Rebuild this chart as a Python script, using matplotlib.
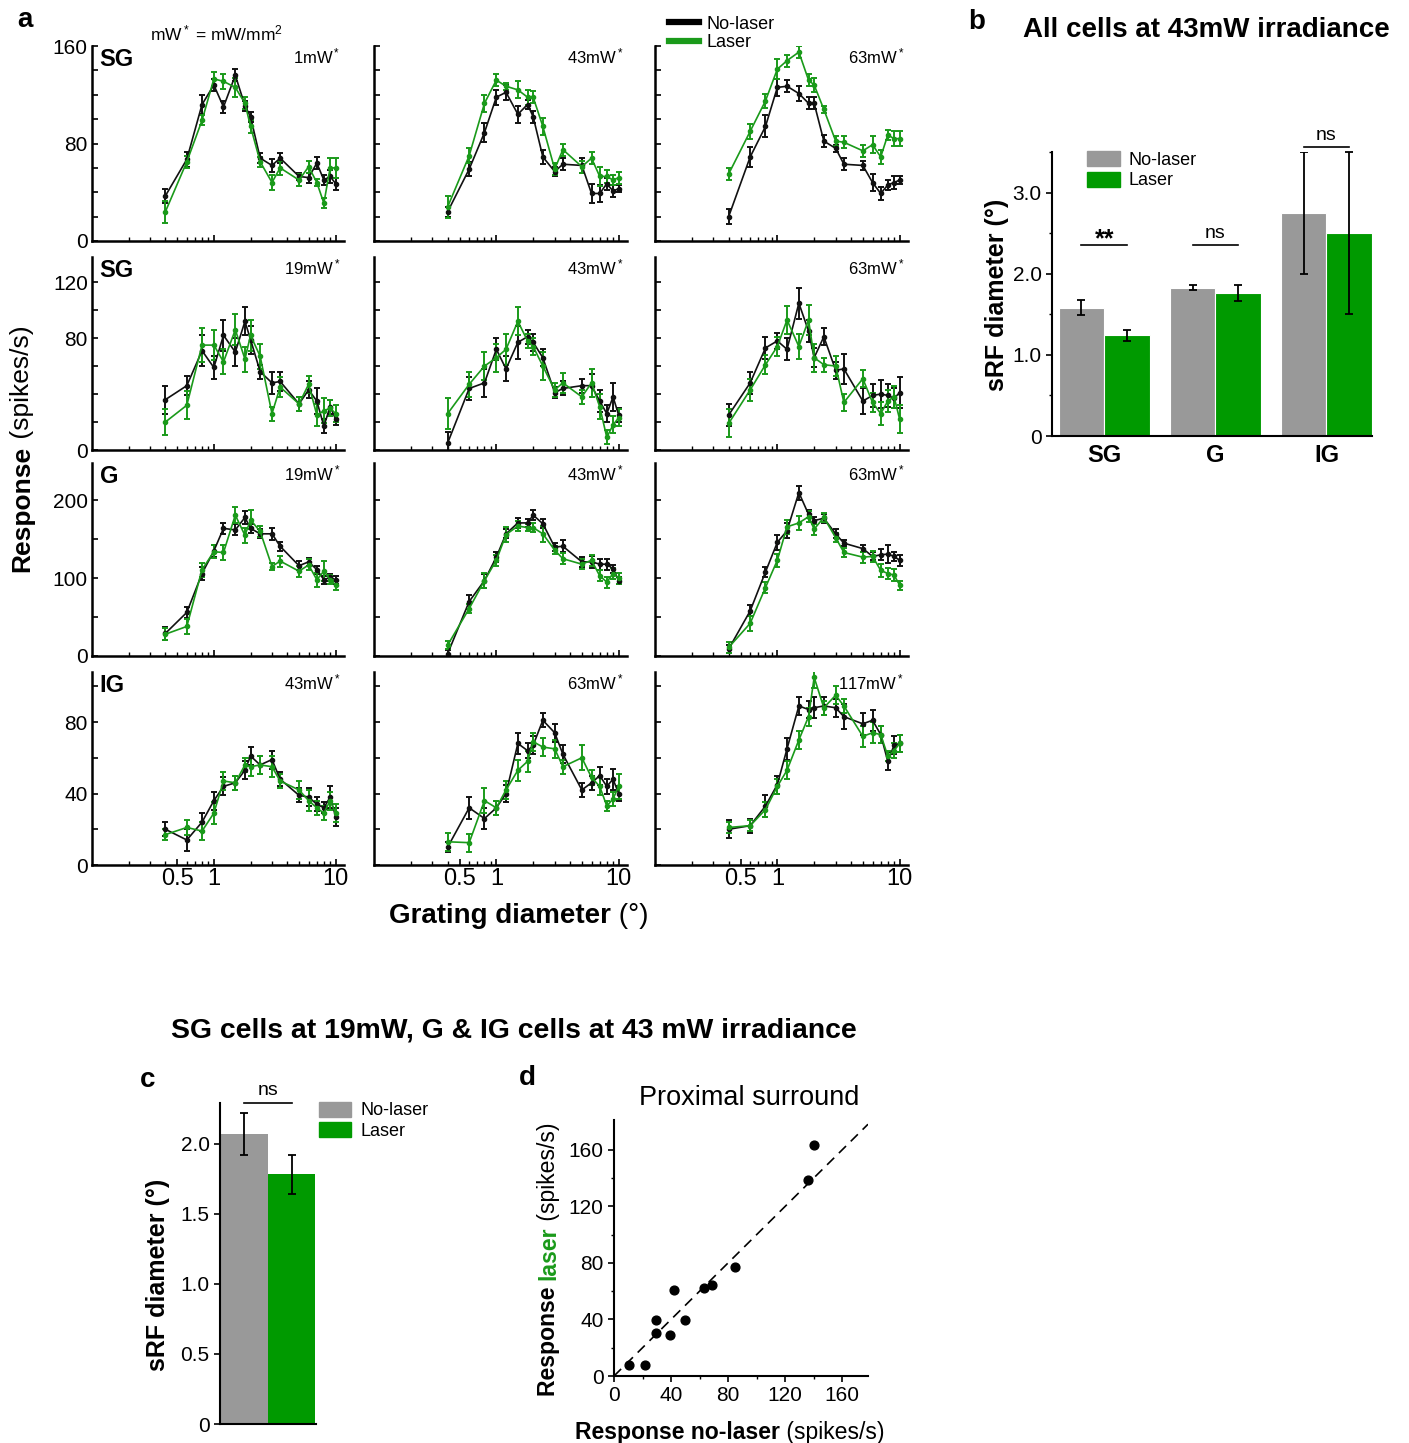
"""Surround suppression figure: size tuning with/without laser, sRF bars and scatter."""

import matplotlib
matplotlib.use("Agg")
import matplotlib.pyplot as plt
from matplotlib.lines import Line2D
from matplotlib.patches import Patch
from matplotlib.ticker import LogLocator, NullFormatter

plt.rcParams["font.family"] = ["Liberation Sans", "DejaVu Sans"]
plt.rcParams["mathtext.fontset"] = "custom"
plt.rcParams["mathtext.rm"] = "Liberation Sans"
plt.rcParams["mathtext.it"] = "Liberation Sans:italic"

BLACK = "#111111"
GREEN = "#1a9a1a"
GRAY = "#999999"
BAR_GREEN = "#009a00"

# ---- panel a data --------------------------------------------------------
diam = [0.4, 0.6, 0.8, 1.0, 1.2, 1.5, 1.8, 2.0, 2.4, 3.0, 3.5, 5, 6, 7, 8, 9, 10]

sg_1mw_k = [37, 67, 112, 128, 110, 136, 111, 102, 68, 62, 68, 53, 52, 64, 50, 53, 47]
sg_1mw_k_err = [6, 6, 8, 5, 5, 5, 4, 4, 4, 5, 4, 3, 4, 5, 4, 5, 5]
sg_1mw_g = [24, 65, 99, 133, 131, 126, 113, 94, 65, 48, 60, 50, 61, 48, 31, 60, 60]
sg_1mw_g_err = [9, 5, 4, 6, 6, 8, 5, 5, 4, 6, 6, 5, 5, 3, 4, 8, 8]

sg_43mw_k = [24, 59, 89, 118, 122, 104, 112, 102, 69, 57, 63, 62, 39, 39, 47, 41, 43]
sg_43mw_k_err = [4, 6, 8, 6, 6, 7, 4, 5, 6, 4, 5, 6, 8, 7, 5, 5, 3]
sg_43mw_g = [28, 70, 113, 132, 127, 124, 118, 118, 94, 59, 75, 61, 68, 53, 53, 50, 52]
sg_43mw_g_err = [9, 6, 7, 5, 3, 7, 6, 5, 7, 5, 5, 5, 5, 8, 5, 4, 5]

sg_63mw_k = [20, 69, 94, 126, 127, 121, 113, 113, 82, 76, 63, 62, 48, 39, 46, 48, 50]
sg_63mw_k_err = [6, 8, 9, 7, 5, 6, 5, 5, 5, 3, 5, 4, 7, 5, 4, 5, 3]
sg_63mw_g = [55, 90, 115, 141, 148, 155, 132, 128, 108, 82, 81, 74, 79, 69, 87, 84, 84]
sg_63mw_g_err = [5, 6, 6, 8, 5, 5, 5, 6, 3, 4, 5, 5, 7, 6, 4, 6, 6]

sg2_19mw_k = [36, 46, 71, 59, 82, 70, 92, 79, 56, 48, 49, 33, 43, 35, 17, 31, 22]
sg2_19mw_k_err = [10, 7, 11, 8, 11, 10, 10, 10, 5, 8, 7, 5, 6, 9, 5, 5, 4]
sg2_19mw_g = [20, 32, 75, 75, 63, 86, 65, 82, 67, 26, 45, 33, 47, 25, 28, 30, 26]
sg2_19mw_g_err = [9, 10, 12, 11, 9, 11, 9, 11, 9, 5, 7, 5, 6, 8, 9, 6, 6]

sg2_43mw_k = [5, 44, 48, 72, 58, 77, 81, 77, 66, 41, 44, 46, 46, 35, 26, 38, 25]
sg2_43mw_k_err = [8, 8, 10, 8, 9, 12, 5, 6, 6, 4, 5, 5, 8, 8, 6, 10, 5]
sg2_43mw_g = [26, 47, 60, 66, 72, 92, 78, 74, 60, 43, 48, 38, 48, 31, 9, 18, 23]
sg2_43mw_g_err = [11, 9, 10, 10, 11, 10, 5, 6, 10, 5, 7, 5, 10, 9, 5, 6, 6]

sg2_63mw_k = [25, 48, 73, 78, 72, 105, 85, 66, 81, 57, 58, 35, 39, 40, 39, 37, 41]
sg2_63mw_k_err = [8, 8, 8, 6, 8, 11, 8, 7, 6, 6, 11, 9, 8, 10, 8, 7, 11]
sg2_63mw_g = [19, 43, 61, 74, 93, 74, 93, 66, 61, 60, 34, 51, 34, 26, 35, 38, 22]
sg2_63mw_g_err = [10, 8, 7, 7, 10, 9, 11, 10, 5, 7, 6, 6, 7, 8, 8, 8, 10]

g_19mw_k = [29, 56, 106, 135, 164, 162, 178, 164, 157, 157, 141, 116, 121, 111, 98, 101, 98]
g_19mw_k_err = [8, 7, 8, 8, 7, 7, 8, 6, 6, 8, 6, 6, 5, 5, 5, 5, 5]
g_19mw_g = [28, 38, 111, 134, 133, 181, 155, 175, 160, 115, 122, 109, 117, 98, 109, 98, 91]
g_19mw_g_err = [8, 10, 9, 8, 10, 10, 10, 12, 7, 5, 7, 7, 7, 9, 13, 6, 6]

g_43mw_k = [3, 70, 97, 127, 157, 171, 171, 181, 170, 140, 141, 121, 121, 118, 118, 112, 97]
g_43mw_k_err = [5, 9, 9, 6, 6, 6, 5, 6, 6, 5, 8, 6, 8, 7, 7, 5, 5]
g_43mw_g = [14, 61, 97, 123, 156, 167, 165, 165, 157, 136, 125, 118, 123, 103, 95, 106, 100]
g_43mw_g_err = [5, 6, 10, 7, 10, 6, 5, 6, 10, 5, 7, 6, 7, 7, 7, 7, 7]

g_63mw_k = [9, 58, 108, 146, 161, 210, 182, 174, 177, 157, 145, 138, 128, 130, 131, 128, 123]
g_63mw_k_err = [5, 7, 7, 10, 10, 9, 5, 5, 6, 6, 4, 5, 5, 7, 11, 6, 7]
g_63mw_g = [11, 42, 88, 123, 166, 171, 179, 163, 178, 152, 133, 127, 128, 110, 106, 104, 91]
g_63mw_g_err = [7, 10, 7, 8, 9, 9, 7, 7, 6, 6, 6, 7, 7, 8, 7, 8, 6]

ig_43mw_k = [20, 14, 24, 36, 44, 46, 53, 61, 56, 59, 48, 39, 38, 34, 32, 38, 27]
ig_43mw_k_err = [4, 6, 5, 5, 5, 4, 5, 5, 5, 5, 4, 4, 5, 4, 3, 6, 5]
ig_43mw_g = [17, 21, 19, 29, 47, 46, 56, 55, 56, 55, 47, 42, 36, 32, 29, 36, 29]
ig_43mw_g_err = [3, 4, 5, 6, 5, 4, 4, 5, 5, 6, 4, 5, 6, 4, 4, 5, 5]

ig_63mw_k = [10, 32, 26, 32, 40, 68, 64, 67, 81, 74, 62, 42, 46, 50, 44, 48, 40]
ig_63mw_k_err = [3, 6, 6, 4, 5, 6, 4, 5, 4, 5, 5, 4, 4, 5, 4, 6, 4]
ig_63mw_g = [13, 12.5, 36, 32, 42, 53, 58, 69, 66, 65, 55, 60, 49, 44, 33, 37, 44]
ig_63mw_g_err = [5, 5, 7, 4, 5, 6, 6, 5, 5, 5, 4, 7, 4, 5, 3, 4, 7]

ig_117mw_k = [20, 22, 33, 45, 65, 89, 87, 88, 89, 88, 83, 79, 81, 73, 58, 67, 68]
ig_117mw_k_err = [5, 4, 6, 5, 6, 5, 5, 6, 5, 5, 7, 6, 6, 5, 5, 5, 5]
ig_117mw_g = [21, 22, 31, 44, 53, 70, 83, 105, 88, 95, 89, 72, 74, 73, 61, 64, 68]
ig_117mw_g_err = [3, 3, 4, 4, 5, 5, 5, 6, 4, 5, 4, 6, 6, 5, 3, 4, 5]

row_layers = ["SG", "SG", "G", "IG"]
row_ylims = [160, 138, 248, 108]
row_ystep = [20, 20, 50, 20]
row_ylabels = [[0, 80, 160], [0, 80, 120], [0, 100, 200], [0, 40, 80]]
panel_power = [["1mW", "43mW", "63mW"],
               ["19mW", "43mW", "63mW"],
               ["19mW", "43mW", "63mW"],
               ["43mW", "63mW", "117mW"]]
panel_data = [
    [(sg_1mw_k, sg_1mw_k_err, sg_1mw_g, sg_1mw_g_err),
     (sg_43mw_k, sg_43mw_k_err, sg_43mw_g, sg_43mw_g_err),
     (sg_63mw_k, sg_63mw_k_err, sg_63mw_g, sg_63mw_g_err)],
    [(sg2_19mw_k, sg2_19mw_k_err, sg2_19mw_g, sg2_19mw_g_err),
     (sg2_43mw_k, sg2_43mw_k_err, sg2_43mw_g, sg2_43mw_g_err),
     (sg2_63mw_k, sg2_63mw_k_err, sg2_63mw_g, sg2_63mw_g_err)],
    [(g_19mw_k, g_19mw_k_err, g_19mw_g, g_19mw_g_err),
     (g_43mw_k, g_43mw_k_err, g_43mw_g, g_43mw_g_err),
     (g_63mw_k, g_63mw_k_err, g_63mw_g, g_63mw_g_err)],
    [(ig_43mw_k, ig_43mw_k_err, ig_43mw_g, ig_43mw_g_err),
     (ig_63mw_k, ig_63mw_k_err, ig_63mw_g, ig_63mw_g_err),
     (ig_117mw_k, ig_117mw_k_err, ig_117mw_g, ig_117mw_g_err)],
]

# ---- panel b data --------------------------------------------------------
b_layers = ["SG", "G", "IG"]
b_nolaser = [1.58, 1.83, 2.75]
b_nolaser_err = [0.09, 0.03, 0.75]
b_laser = [1.24, 1.76, 2.50]
b_laser_err = [0.07, 0.10, 1.00]
b_sig = ["**", "ns", "ns"]

# ---- panel c data --------------------------------------------------------
c_nolaser, c_nolaser_err = 2.07, 0.15
c_laser, c_laser_err = 1.78, 0.14

# ---- panel d data --------------------------------------------------------
d_nolaser = [10.5, 21.7, 29.4, 29.4, 39.2, 42, 49.7, 63, 68.5, 84.6, 135.7, 139.9]
d_laser = [7.8, 7.8, 39.7, 30.5, 29.1, 61, 39.7, 62.4, 64.5, 77.3, 138.3, 163]

W, H = 1409, 1443
fig = plt.figure(figsize=(W / 100, H / 100), dpi=100)


def px_axes(left, top, right, bottom):
    return fig.add_axes([left / W, 1 - bottom / H, (right - left) / W, (bottom - top) / H])


def fig_xy(x, y):
    return x / W, 1 - y / H


def clean_spines(ax, lw=1.5):
    for s in ["top", "right"]:
        ax.spines[s].set_visible(False)
    for s in ["left", "bottom"]:
        ax.spines[s].set_linewidth(lw)


# ---- panel a -------------------------------------------------------------
cols = [(92, 344), (374, 627), (655, 908)]
rows = [(46, 241), (257, 450), (463, 656), (672, 865)]

for r, (top, bottom) in enumerate(rows):
    for c, (left, right) in enumerate(cols):
        ax = px_axes(left, top, right, bottom)
        k, ke, g, ge = panel_data[r][c]
        ax.errorbar(diam, k, yerr=ke, color=BLACK, marker="o", ms=3, lw=1.2,
                    elinewidth=1.4, capsize=2.2, capthick=1.4)
        ax.errorbar(diam, g, yerr=ge, color=GREEN, marker="o", ms=3, lw=1.2,
                    elinewidth=1.4, capsize=2.2, capthick=1.4)
        ax.set_xscale("log")
        ax.set_xlim(0.1, 11.7)
        ax.set_ylim(0, row_ylims[r])
        clean_spines(ax, 1.8)
        ax.xaxis.set_minor_locator(LogLocator(base=10, subs=range(2, 10)))
        ax.xaxis.set_minor_formatter(NullFormatter())
        yt = list(range(0, row_ylims[r] + 1, row_ystep[r]))
        ylab = [str(v) if (v in row_ylabels[r] and c == 0) else "" for v in yt]
        ax.set_yticks(yt, labels=ylab)
        if r == 3:
            ax.set_xticks([0.5, 1, 10], labels=["0.5", "1", "10"])
        else:
            ax.set_xticks([1, 10], labels=["", ""])
        ax.tick_params(direction="in", which="major", length=4, width=1.2, pad=3)
        ax.tick_params(direction="in", which="minor", length=3, width=1.0)
        ax.tick_params(axis="y", labelsize=15)
        ax.tick_params(axis="x", which="major", labelsize=17, pad=2)
        if c == 0:
            ax.text(0.03, 0.93, row_layers[r], transform=ax.transAxes,
                    fontsize=17, fontweight="bold", va="center", ha="left")
        ax.text(0.985, 0.945, panel_power[r][c] + "$^*$", transform=ax.transAxes,
                fontsize=12, va="center", ha="right")

ax0 = fig.axes[0]
fig.text(*fig_xy(25, 20), "a", fontsize=20, fontweight="bold", ha="center", va="center")
fig.text(*fig_xy(150, 33), "mW$^*$ = mW/mm$^2$", fontsize=12.5, ha="left", va="center")

handles = [Line2D([], [], color="black", lw=4.5), Line2D([], [], color=GREEN, lw=4.5)]
fig.legend(handles, ["No-laser", "Laser"], loc="upper left",
           bbox_to_anchor=fig_xy(656, 3), frameon=False, fontsize=13,
           handlelength=1.7, handletextpad=0.4, labelspacing=0.1, borderpad=0.2)

t1 = fig.text(*fig_xy(22, 572), "Response", rotation=90, fontsize=19,
              fontweight="bold", ha="center", va="bottom")
ax0.annotate(" (spikes/s)", xy=(0.5, 1), xycoords=t1, rotation=90,
             fontsize=19, ha="center", va="bottom", annotation_clip=False)

t2 = fig.text(*fig_xy(389, 916), "Grating diameter", fontsize=20, fontweight="bold",
              ha="left", va="center")
ax0.annotate(" (°)", xy=(1, 0.5), xycoords=t2, fontsize=20,
             ha="left", va="center", annotation_clip=False)

# ---- panel b -------------------------------------------------------------
axb = px_axes(1052, 152, 1372, 436)
bw = 0.41
xs = list(range(len(b_layers)))
axb.bar([x - bw / 2 for x in xs], b_nolaser, width=bw, color=GRAY, edgecolor="white",
        linewidth=0.8)
axb.bar([x + bw / 2 for x in xs], b_laser, width=bw, color=BAR_GREEN, edgecolor="white",
        linewidth=0.8)
axb.errorbar([x - bw / 2 for x in xs], b_nolaser, yerr=b_nolaser_err, fmt="none",
             ecolor="black", elinewidth=1.3, capsize=3, capthick=1.3)
axb.errorbar([x + bw / 2 for x in xs], b_laser, yerr=b_laser_err, fmt="none",
             ecolor="black", elinewidth=1.3, capsize=3, capthick=1.3, clip_on=False)
axb.set_xlim(-0.47, 2.41)
axb.set_ylim(0, 3.5)
axb.set_yticks([0, 1, 2, 3], labels=["0", "1.0", "2.0", "3.0"])
axb.set_yticks([0.5, 1.5, 2.5, 3.5], minor=True)
axb.set_xticks(xs, labels=b_layers)
axb.tick_params(axis="x", length=0, labelsize=17, pad=6)
for lab in axb.get_xticklabels():
    lab.set_fontweight("bold")
axb.tick_params(axis="y", which="major", length=4, width=1.2, labelsize=15, direction="out")
axb.tick_params(axis="y", which="minor", length=2.5, width=1.0, direction="out")
clean_spines(axb)
sig_y = [2.35, 2.35, 3.56]
for x, lab, y in zip(xs, b_sig, sig_y):
    axb.plot([x - bw / 2, x + bw / 2], [y, y], color="black", lw=1.2, clip_on=False)
    if lab == "**":
        axb.text(x, y + 0.08, lab, ha="center", va="center", fontsize=18,
                 fontweight="bold")
    else:
        axb.text(x, y + 0.04, lab, ha="center", va="bottom", fontsize=14)
axb.legend([Patch(color=GRAY), Patch(color=BAR_GREEN)], ["No-laser", "Laser"],
           loc="upper left", bbox_to_anchor=(0.06, 1.06), frameon=False, fontsize=13,
           handlelength=1.8, handleheight=0.9, handletextpad=0.5, labelspacing=0.15)
fig.text(*fig_xy(997, 295), "sRF diameter (°)", rotation=90, fontsize=18,
         fontweight="bold", ha="center", va="center")
fig.text(*fig_xy(977, 22), "b", fontsize=20, fontweight="bold", ha="center", va="center")
fig.text(*fig_xy(1206, 30), "All cells at 43mW irradiance", fontsize=20,
         fontweight="bold", ha="center", va="center")

# ---- panel c -------------------------------------------------------------
axc = px_axes(220, 1103, 316, 1424)
axc.bar([0, 1], [c_nolaser, c_laser], width=0.98, color=[GRAY, BAR_GREEN])
axc.errorbar([0, 1], [c_nolaser, c_laser], yerr=[c_nolaser_err, c_laser_err], fmt="none",
             ecolor="black", elinewidth=1.3, capsize=3, capthick=1.3)
axc.set_xlim(-0.52, 1.52)
axc.set_ylim(0, 2.29)
axc.set_yticks([0, 0.5, 1.0, 1.5, 2.0], labels=["0", "0.5", "1.0", "1.5", "2.0"])
axc.set_xticks([])
axc.tick_params(axis="y", length=4, width=1.2, labelsize=15)
clean_spines(axc)
axc.plot([0, 1], [2.29, 2.29], color="black", lw=1.2, clip_on=False)
axc.text(0.5, 2.32, "ns", ha="center", va="bottom", fontsize=14)
axc.legend([Patch(color=GRAY), Patch(color=BAR_GREEN)], ["No-laser", "Laser"],
           loc="upper left", bbox_to_anchor=(0.86, 1.055), frameon=False, fontsize=13,
           handlelength=1.8, handleheight=0.9, handletextpad=0.5, labelspacing=0.15)
fig.text(*fig_xy(158, 1275), "sRF diameter (°)", rotation=90, fontsize=18,
         fontweight="bold", ha="center", va="center")
fig.text(*fig_xy(148, 1080), "c", fontsize=20, fontweight="bold", ha="center", va="center")
fig.text(*fig_xy(514, 1030), "SG cells at 19mW, G & IG cells at 43 mW irradiance",
         fontsize=20.4, fontweight="bold", ha="center", va="center")

# ---- panel d -------------------------------------------------------------
axd = px_axes(614, 1120, 868, 1376)
axd.plot([0, 178], [0, 178], color="black", lw=1.2, ls=(0, (6, 4)))
axd.scatter(d_nolaser, d_laser, s=40, color="black", zorder=3)
axd.set_xlim(0, 178)
axd.set_ylim(0, 181)
axd.set_xticks([0, 40, 80, 120, 160])
axd.set_yticks([0, 40, 80, 120, 160])
axd.set_xticks(range(20, 180, 40), minor=True)
axd.set_yticks(range(20, 180, 40), minor=True)
axd.tick_params(which="major", length=4, width=1.2, labelsize=15)
axd.tick_params(which="minor", length=2.5, width=1.0)
clean_spines(axd)
fig.text(*fig_xy(749, 1098), "Proximal surround", fontsize=19.5, ha="center", va="center")
fig.text(*fig_xy(527, 1078), "d", fontsize=20, fontweight="bold", ha="center", va="center")

d1 = fig.text(*fig_xy(549, 1396), "Response ", rotation=90, fontsize=16.6,
              fontweight="bold", ha="center", va="bottom")
d2 = axd.annotate("laser", xy=(0.5, 1), xycoords=d1, rotation=90, fontsize=16.6,
                  fontweight="bold", color=GREEN, ha="center", va="bottom",
                  annotation_clip=False)
axd.annotate(" (spikes/s)", xy=(0.5, 1), xycoords=d2, rotation=90, fontsize=16.6,
             ha="center", va="bottom", annotation_clip=False)
d3 = fig.text(*fig_xy(575, 1432), "Response no-laser", fontsize=16.6, fontweight="bold",
              ha="left", va="center")
axd.annotate(" (spikes/s)", xy=(1, 0.5), xycoords=d3, fontsize=16.6,
             ha="left", va="center", annotation_clip=False)

fig.savefig("out.png", dpi=100)
